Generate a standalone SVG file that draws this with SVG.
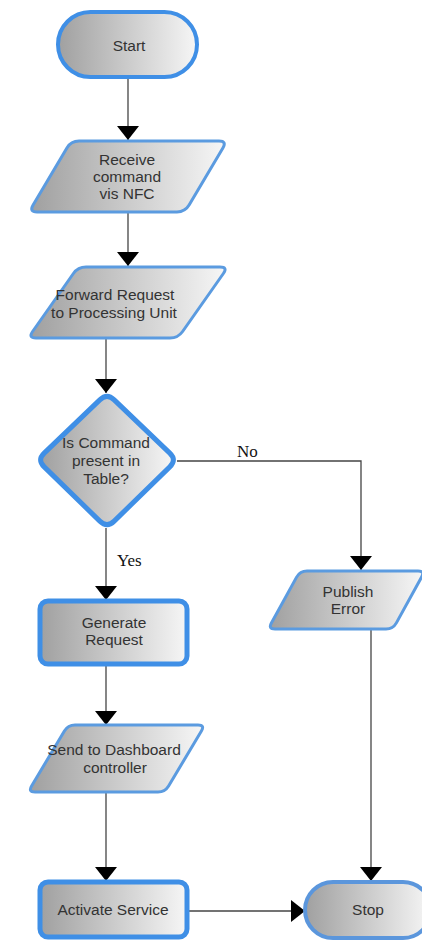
<svg xmlns="http://www.w3.org/2000/svg" width="422" height="940" viewBox="0 0 422 940">
<defs>
<linearGradient id="g" x1="0" y1="0" x2="1" y2="0">
<stop offset="0" stop-color="#a0a0a0"/>
<stop offset="1" stop-color="#f6f6f6"/>
</linearGradient>
<marker id="arr" viewBox="0 0 14 22" refX="14" refY="11" markerWidth="14" markerHeight="22" orient="auto" markerUnits="userSpaceOnUse">
<path d="M0,0 L14,11 L0,22 Z" fill="#000"/>
</marker>
</defs>
<style>
.shape{fill:url(#g);stroke:#3f8fe6;stroke-width:4;stroke-linejoin:round}
.para{fill:url(#g);stroke:#5b9be0;stroke-width:3;stroke-linejoin:round}
.box{fill:url(#g);stroke:#3f8fe6;stroke-width:5}
.lbl{font-family:"Liberation Sans",Arial,sans-serif;font-size:15.5px;fill:#333;text-anchor:middle}
.cl{font-family:"Liberation Serif","Times New Roman",serif;font-size:17px;fill:#111}
.conn{fill:none;stroke:#444;stroke-width:1.3;marker-end:url(#arr)}
</style>
<rect width="422" height="940" fill="#fff"/>
<g id="connectors">
<path class="conn" d="M128,78 V140"/>
<path class="conn" d="M128,212 V266"/>
<path class="conn" d="M106,338 V393"/>
<path class="conn" d="M177,461 H361 V570"/>
<path class="conn" d="M106,528 V600"/>
<path class="conn" d="M106,665 V725"/>
<path class="conn" d="M106,792 V881"/>
<path class="conn" d="M187,911 H305"/>
<path class="conn" d="M371,630 V881"/>
<text class="cl" x="237" y="457">No</text>
<text class="cl" x="117" y="566">Yes</text>
</g>
<g id="start">
<rect class="shape" x="58" y="12" width="139" height="65" rx="32.5"/>
<text class="lbl" x="129" y="51">Start</text>
</g>
<g id="receive">
<path class="para" d="M79,141 H219 Q227,141 222.9,147.9 L189.1,205.1 Q185,212 177,212 H37 Q29,212 33.1,205.1 L66.9,147.9 Q71,141 79,141 Z"/>
<text class="lbl" x="127" y="165">Receive</text>
<text class="lbl" x="127" y="182">command</text>
<text class="lbl" x="127" y="199">vis NFC</text>
</g>
<g id="forward">
<path class="para" d="M86,267 H220 Q228,267 223.4,273.5 L182.6,331.5 Q178,338 170,338 H36 Q28,338 32.6,331.5 L73.4,273.5 Q78,267 86,267 Z"/>
<text class="lbl" x="115" y="300">Forward Request</text>
<text class="lbl" x="114" y="318">to Processing Unit</text>
</g>
<g id="decision">
<path class="shape" style="stroke-width:5" d="M114.2,399.9 L169.8,453.1 Q177,460 169.8,466.9 L114.2,521.1 Q107,528 99.8,521.1 L44.2,466.9 Q37,460 44.2,453.1 L99.8,399.9 Q107,393 114.2,399.9 Z"/>
<text class="lbl" x="106" y="448">Is Command</text>
<text class="lbl" x="106" y="466">present in</text>
<text class="lbl" x="106" y="484">Table?</text>
</g>
<g id="generate">
<rect class="box" x="40" y="601" width="147" height="63" rx="8"/>
<text class="lbl" x="114" y="628">Generate</text>
<text class="lbl" x="114" y="645">Request</text>
</g>
<g id="send">
<path class="para" d="M75,725 H198 Q205,725 201.4,731 L168.6,786 Q165,792 158,792 H35 Q28,792 31.6,786 L64.4,731 Q68,725 75,725 Z"/>
<text class="lbl" x="114" y="755">Send to Dashboard</text>
<text class="lbl" x="115" y="773">controller</text>
</g>
<g id="activate">
<rect class="box" x="40" y="882" width="147" height="55" rx="8"/>
<text class="lbl" x="113" y="915">Activate Service</text>
</g>
<g id="publish">
<path class="para" d="M307,571 H418 Q425,571 421.6,577.1 L396.4,622.9 Q393,629 386,629 H275 Q268,629 271.4,622.9 L296.6,577.1 Q300,571 307,571 Z"/>
<text class="lbl" x="348" y="597">Publish</text>
<text class="lbl" x="348" y="614">Error</text>
</g>
<g id="stop">
<rect class="shape" style="stroke:#5b96dc" x="305" y="882" width="126" height="56" rx="28"/>
<text class="lbl" x="368" y="915">Stop</text>
</g>
</svg>
